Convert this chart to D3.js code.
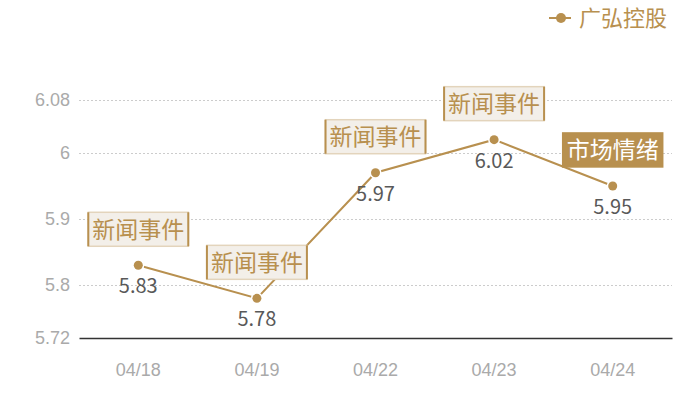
<!DOCTYPE html>
<html>
<head>
<meta charset="utf-8">
<script src="https://cdn.jsdelivr.net/npm/d3@7"></script>
<style>
  body { margin: 0; background: #fff; }
  svg { font-family: "Noto Sans CJK SC", "Noto Sans", sans-serif; }
</style>
</head>
<body>
<div id="chart"></div>
<script>
// chart data
const dates = ['04/18', '04/19', '04/22', '04/23', '04/24'];
const prices = [5.83, 5.78, 5.97, 6.02, 5.95];
const eventLabels = ['新闻事件', '新闻事件', '新闻事件', '新闻事件', '市场情绪'];
const eventHighlight = [false, false, false, false, true];
const yTicks = [5.72, 5.8, 5.9, 6, 6.08];
const seriesName = '广弘控股';

const gold = '#b8904f';
const width = 700, height = 400;

const svg = d3.select('#chart')
    .append('svg')
    .attr('width', width)
    .attr('height', height);

// scales
const x = d3.scaleBand()
    .domain(dates)
    .range([79, 672]);

const y = d3.scaleLinear()
    .domain([5.72, 6.08])
    .range([338, 100]);

const cx = d => x(d) + x.bandwidth() / 2;

// grid lines
svg.append('g')
    .selectAll('line')
    .data(yTicks.slice(1))
    .join('line')
    .attr('x1', 79)
    .attr('x2', 672)
    .attr('y1', d => Math.round(y(d)) + 0.5)
    .attr('y2', d => Math.round(y(d)) + 0.5)
    .attr('stroke', '#cccccc')
    .attr('stroke-dasharray', '2,2');

// y axis labels
const yAxis = svg.append('g')
    .attr('transform', 'translate(79,0)')
    .call(d3.axisLeft(y).tickValues(yTicks).tickFormat(d => d3.format('~g')(d)).tickSize(0).tickPadding(9));
yAxis.select('.domain').remove();
yAxis.selectAll('text')
    .attr('fill', '#aaaaaa')
    .style('font-size', '18px');

// x axis
const xAxis = svg.append('g')
    .attr('transform', 'translate(0,338)')
    .call(d3.axisBottom(x).tickSize(0).tickPadding(25));
xAxis.select('.domain').attr('stroke', '#333').attr('stroke-width', 1.3);
xAxis.selectAll('text')
    .attr('fill', '#aaaaaa')
    .style('font-size', '18px');

// series line
const line = d3.line()
    .x((d, i) => cx(dates[i]))
    .y(d => y(d));

svg.append('path')
    .datum(prices)
    .attr('d', line)
    .attr('fill', 'none')
    .attr('stroke', gold)
    .attr('stroke-width', 2);

// points
svg.append('g')
    .selectAll('circle')
    .data(prices)
    .join('circle')
    .attr('cx', (d, i) => cx(dates[i]))
    .attr('cy', d => y(d))
    .attr('r', 4.5)
    .attr('fill', gold)
    .attr('stroke', '#fff')
    .attr('stroke-width', 3)
    .attr('paint-order', 'stroke');

// value labels
svg.append('g')
    .selectAll('text')
    .data(prices)
    .join('text')
    .attr('x', (d, i) => cx(dates[i]))
    .attr('y', d => y(d) + 28)
    .attr('text-anchor', 'middle')
    .attr('fill', '#595959')
    .style('font-size', '20px')
    .text(d => d3.format('.2f')(d));

// event label boxes
const events = svg.append('g')
    .selectAll('g')
    .data(prices)
    .join('g')
    .attr('transform', (d, i) => `translate(${cx(dates[i])},${y(d) - 36})`);

const boxW = 100, boxH = 34;
events.append('rect')
    .attr('x', -boxW / 2)
    .attr('y', -boxH / 2)
    .attr('width', boxW)
    .attr('height', boxH)
    .attr('fill', (d, i) => eventHighlight[i] ? gold : '#f3efe9')
    .attr('stroke', (d, i) => eventHighlight[i] ? gold : '#e3d4bc')
    .attr('stroke-width', 1.5);

events.filter((d, i) => !eventHighlight[i])
    .selectAll('line')
    .data([-boxW / 2, boxW / 2])
    .join('line')
    .attr('x1', d => d)
    .attr('x2', d => d)
    .attr('y1', -boxH / 2)
    .attr('y2', boxH / 2)
    .attr('stroke', gold)
    .attr('stroke-width', 2);

events.append('text')
    .attr('text-anchor', 'middle')
    .attr('dy', '0.36em')
    .attr('fill', (d, i) => eventHighlight[i] ? '#fff' : gold)
    .style('font-size', '23px')
    .text((d, i) => eventLabels[i]);

// legend
const legend = svg.append('g')
    .attr('transform', 'translate(549,18)');
legend.append('line')
    .attr('x1', 0)
    .attr('x2', 22)
    .attr('stroke', gold)
    .attr('stroke-width', 2);
legend.append('circle')
    .attr('cx', 12)
    .attr('r', 5)
    .attr('fill', gold);
legend.append('text')
    .attr('x', 30)
    .attr('dy', '0.36em')
    .attr('fill', gold)
    .style('font-size', '22px')
    .text(seriesName);
</script>
</body>
</html>
